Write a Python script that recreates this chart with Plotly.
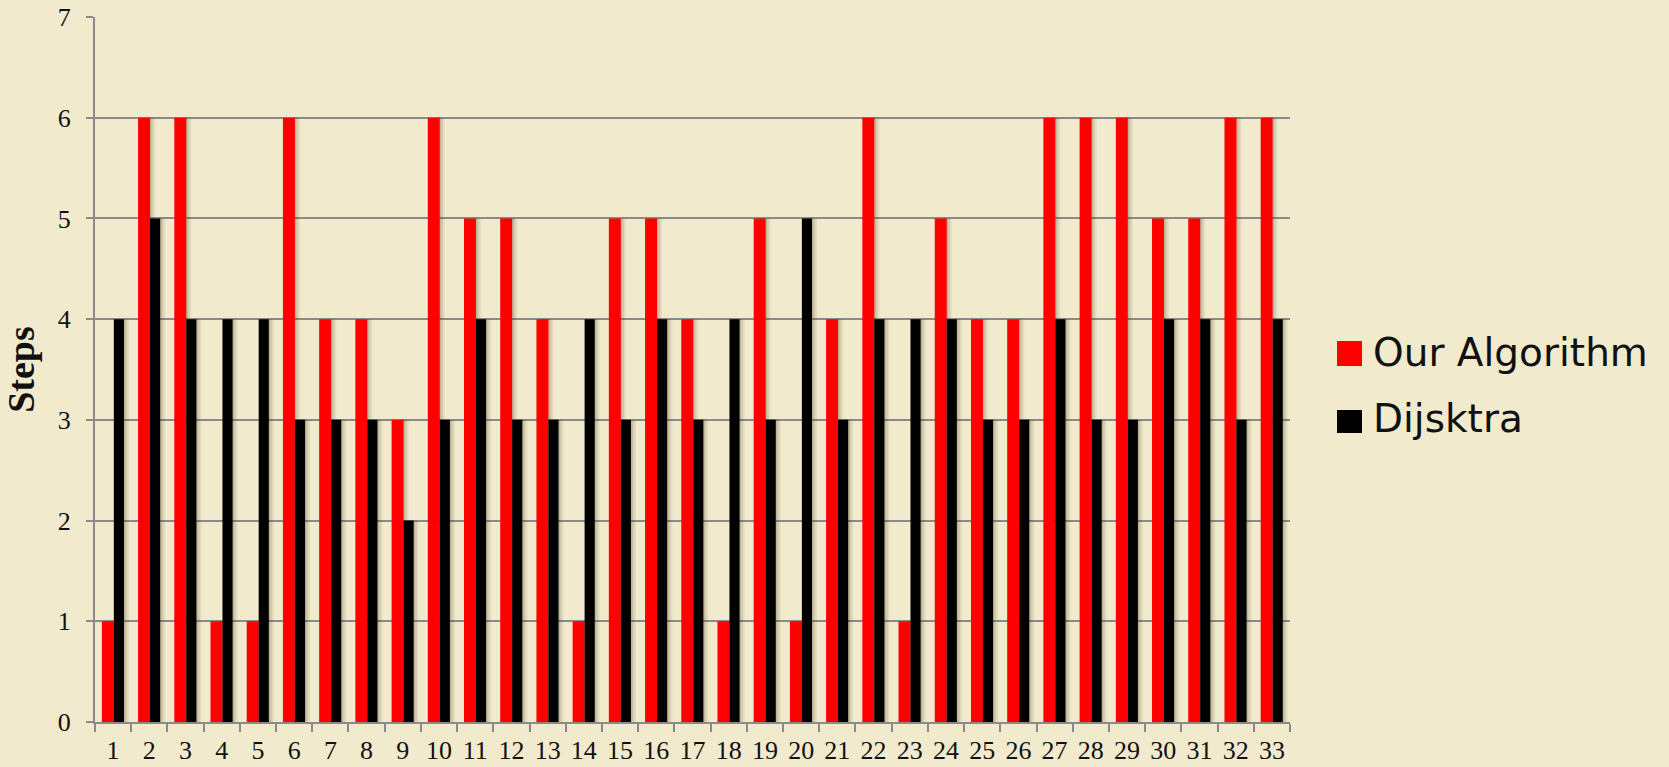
import plotly.graph_objects as go

# Steps taken per test case
categories = [str(i) for i in range(1, 34)]
our_algorithm = [1, 6, 6, 1, 1, 6, 4, 4, 3, 6, 5, 5, 4, 1, 5, 5, 4,
                 1, 5, 1, 4, 6, 1, 5, 4, 4, 6, 6, 6, 5, 5, 6, 6]
dijkstra = [4, 5, 4, 4, 4, 3, 3, 3, 2, 3, 4, 3, 3, 4, 3, 4, 3,
            4, 3, 5, 3, 4, 4, 4, 3, 3, 4, 3, 3, 4, 4, 3, 4]
y_ticks = [0, 1, 2, 3, 4, 5, 6, 7]
series_names = ["Our Algorithm", "Dijsktra"]

W, H = 1669, 767
ML, MR, MT, MB = 95, 379, 17, 45
BG = "#f2eacd"
GRID = "#8a8a8a"
RED = "#ff0000"
BLACK = "#000000"
SERIF = "Liberation Serif"

PLOT_W = W - ML - MR
PLOT_H = H - MT - MB


def px_x(p):
    return (p - ML) / PLOT_W


def px_y(p):
    return (H - MB - p) / PLOT_H


fig = go.Figure()

bar_specs = [
    (our_algorithm, -0.31, 0.33, RED, series_names[0]),
    (dijkstra, 0.02, 0.28, BLACK, series_names[1]),
]

# soft drop shadow to the right of every bar
for values, off, w, _, _ in bar_specs:
    for shift, alpha in [(0.04, 0.16), (0.09, 0.11), (0.14, 0.07)]:
        fig.add_bar(
            x=categories, y=values, offset=off + shift, width=w,
            marker=dict(color=f"rgba(70,60,30,{alpha})", line=dict(width=0)),
            showlegend=False, hoverinfo="skip",
        )

for values, off, w, color, name in bar_specs:
    fig.add_bar(
        x=categories, y=values, offset=off, width=w, name=name,
        marker=dict(color=color, line=dict(width=0)),
        showlegend=False,
    )

# legend drawn beside the plot
legend_items = [
    (series_names[0], RED, 341, 366, 352),
    (series_names[1], BLACK, 410, 433, 419),
]
for name, color, top, bottom, mid in legend_items:
    fig.add_shape(
        type="rect", xref="paper", yref="paper",
        x0=px_x(1337), x1=px_x(1362), y0=px_y(bottom), y1=px_y(top),
        fillcolor=color, line=dict(width=0),
    )
    fig.add_annotation(
        text=name, xref="paper", yref="paper",
        x=px_x(1371), y=px_y(mid), xanchor="left", yanchor="middle",
        showarrow=False,
        font=dict(family="DejaVu Sans", size=39, color="#111111"),
    )

fig.update_layout(
    width=W, height=H,
    margin=dict(l=ML, r=MR, t=MT, b=MB),
    paper_bgcolor=BG, plot_bgcolor=BG,
    barmode="overlay",
    showlegend=False,
    xaxis=dict(
        type="category", tickson="boundaries", tickangle=0,
        ticks="outside", ticklen=8, tickwidth=2, tickcolor=GRID,
        showline=True, linecolor=GRID, linewidth=2,
        showgrid=False, ticklabelstandoff=4, automargin=False,
        tickfont=dict(family=SERIF, size=26, color="#111111"),
    ),
    yaxis=dict(
        range=[0, 7], tickvals=y_ticks,
        showgrid=True, gridcolor=GRID, gridwidth=2,
        ticks="outside", ticklen=7, tickwidth=2, tickcolor=GRID,
        showline=True, linecolor=GRID, linewidth=2,
        zeroline=False, ticklabelstandoff=10, automargin=False,
        tickfont=dict(family=SERIF, size=26, color="#111111"),
        title=dict(text="<b>Steps</b>", standoff=12,
                   font=dict(family=SERIF, size=38, color="#111111")),
    ),
)

fig.write_html("out.html")
